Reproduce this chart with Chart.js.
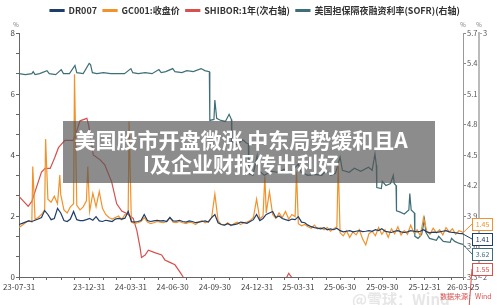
<!DOCTYPE html>
<html>
<head>
<meta charset="utf-8">
<script src="https://cdn.jsdelivr.net/npm/chart.js@4.4.1/dist/chart.umd.min.js"></script>
<style>
  html, body { margin: 0; padding: 0; background: #fff; }
</style>
</head>
<body>
<canvas id="rateChart" width="500" height="305"></canvas>
<script>
// x = days since 2023-07-31, last point 2026-03-25 (day 968)
var weekDays = Array.from({ length: 139 }, function (_, i) { return i * 7; }).concat([968]);

var dr007 = [
  1.72, 1.76, 1.80, 1.84, 1.82, 1.86, 1.90, 1.95, 2.18, 2.05,
  1.88, 1.92, 2.25, 2.10, 1.85, 1.82, 1.90, 2.15, 1.88, 1.85,
  1.85, 1.88, 1.92, 1.86, 1.98, 1.84, 1.82, 1.86, 1.84, 1.82,
  1.90, 1.92, 1.90, 1.93, 2.15, 1.82, 1.80, 1.82, 1.85, 2.05,
  1.85, 1.82, 1.84, 1.86, 1.84, 1.85, 1.82, 1.95, 1.84, 1.83,
  1.86, 1.82, 1.80, 1.84, 1.82, 1.78, 1.80, 1.82, 1.84, 1.80,
  1.95, 2.05, 1.78, 1.72, 1.70, 1.75, 1.70, 1.72, 1.74, 1.80,
  1.78, 1.76, 1.82, 1.88, 2.05, 1.85, 1.92, 2.05, 2.10, 2.15,
  1.95, 2.00, 1.92, 1.88, 1.85, 1.90, 1.88, 1.98, 1.80, 1.78,
  1.70, 1.65, 1.62, 1.60, 1.58, 1.62, 1.55, 1.58, 1.55, 1.60,
  1.52, 1.48, 1.50, 1.52, 1.48, 1.50, 1.52, 1.49, 1.50, 1.52,
  1.50, 1.55, 1.52, 1.58, 1.50, 1.48, 1.46, 1.50, 1.52, 1.48,
  1.46, 1.48, 1.52, 1.50, 1.48, 1.50, 1.55, 1.48, 1.45, 1.47,
  1.46, 1.48, 1.50, 1.52, 1.48, 1.46, 1.45, 1.43, 1.42, 1.41
];

var gc001 = [
  1.62, 1.70, 1.78, 1.85, 1.80, 1.90, 1.95, 2.05, 2.20, 2.55,
  2.45, 2.65, 2.40, 2.70, 2.20, 2.10, 2.30, 2.40, 2.35, 2.20,
  2.30, 2.50, 2.15, 2.75, 2.30, 2.80, 2.25, 2.05, 1.95, 1.90,
  1.95, 2.00, 1.88, 2.05, 2.10, 1.80, 1.75, 1.78, 1.82, 1.95,
  1.80, 1.75, 1.78, 1.82, 1.80, 1.78, 1.82, 1.95, 1.80, 1.78,
  1.82, 1.78, 1.75, 1.80, 1.78, 1.72, 1.80, 1.85, 1.78, 1.82,
  1.95, 2.72, 1.85, 1.72, 1.70, 1.78, 1.68, 1.75, 1.80, 1.72,
  1.78, 1.80, 1.85, 1.95, 2.55, 1.90, 2.00, 2.10, 2.80, 2.05,
  1.92, 2.10, 1.95, 2.15, 1.90, 2.05, 1.98, 1.75, 1.68, 1.72,
  1.65, 1.60, 1.70, 1.58, 1.62, 1.55, 1.62, 1.50, 1.58, 1.65,
  1.45, 1.35, 1.52, 1.30, 1.48, 1.38, 1.55, 1.25, 1.05, 1.42,
  1.50, 1.35, 1.62, 1.40, 1.55, 1.30, 1.58, 1.42, 1.65, 1.38,
  1.52, 1.40, 1.70, 1.45, 1.55, 1.35, 1.95, 1.50, 1.40, 1.60,
  1.45, 1.55, 1.38, 1.62, 1.48, 1.58, 1.40, 1.52, 1.48, 1.45
];

// month-end spikes of GC001
var gcSpikeDays = [30, 58, 89, 121, 150, 240, 536, 605, 696];
var gcSpikeVals = [3.62, 4.52, 3.34, 6.65, 3.62, 5.10, 3.30, 3.45, 3.73];

var shiborDays = [
  0, 10, 20, 28, 35, 42, 49, 57, 68, 78,
  86, 100, 118, 126, 133, 148, 152, 155, 162, 177,
  187, 202, 213, 224, 235, 249, 257, 264, 267, 275,
  282, 296, 311, 318, 329, 340, 351, 358, 370, 390,
  410, 430, 450, 470, 490, 510, 530, 550, 565, 578,
  584, 588, 594, 600, 620, 640, 660, 680, 700, 730,
  760, 790, 820, 850, 880, 910, 940, 968
];
var shiborVals = [
  2.33, 2.31, 2.29, 2.31, 2.35, 2.39, 2.43, 2.445, 2.445, 2.49,
  2.53, 2.56, 2.56, 2.60, 2.64, 2.65, 2.62, 2.58, 2.50, 2.48,
  2.46, 2.39, 2.30, 2.27, 2.26, 2.24, 2.19, 2.12, 2.08, 2.09,
  2.11, 2.10, 2.09, 2.07, 2.06, 2.05, 2.02, 2.00, 1.97, 1.93,
  1.90, 1.88, 1.86, 1.84, 1.78, 1.68, 1.66, 1.74, 1.88, 1.96,
  2.00, 2.015, 2.00, 1.96, 1.90, 1.80, 1.72, 1.68, 1.65, 1.63,
  1.62, 1.64, 1.64, 1.63, 1.62, 1.60, 1.57, 1.55
];

var sofrDays = [
  0, 14, 28, 31, 35, 45, 61, 66, 80, 92,
  97, 110, 122, 126, 140, 153, 156, 160, 170, 184,
  200, 213, 230, 244, 248, 260, 275, 290, 305, 310,
  320, 335, 340, 355, 366, 380, 397, 405, 415, 416,
  425, 427, 431, 440, 450, 458, 463, 464, 475, 488,
  495, 500, 501, 510, 519, 522, 535, 550, 565, 578,
  590, 609, 615, 630, 645, 660, 670, 680, 690, 700,
  705, 720, 731, 745, 762, 770, 776, 779, 780, 790,
  792, 800, 810, 816, 818, 822, 823, 830, 840, 850,
  852, 855, 862, 863, 870, 878, 884, 887, 895, 910,
  915, 925, 940, 943, 950, 960, 968
];
var sofrVals = [
  5.30, 5.29, 5.30, 5.32, 5.29, 5.30, 5.33, 5.30, 5.29, 5.34,
  5.30, 5.30, 5.38, 5.31, 5.30, 5.40, 5.39, 5.31, 5.30, 5.31,
  5.30, 5.30, 5.30, 5.35, 5.31, 5.30, 5.31, 5.30, 5.34, 5.31,
  5.32, 5.35, 5.32, 5.31, 5.33, 5.32, 5.35, 5.33, 5.32, 4.84,
  4.85, 5.04, 4.86, 4.84, 4.83, 4.90, 4.85, 4.63, 4.60, 4.65,
  4.62, 4.61, 4.32, 4.30, 4.49, 4.35, 4.30, 4.34, 4.33, 4.36,
  4.32, 4.41, 4.33, 4.30, 4.31, 4.30, 4.35, 4.30, 4.32, 4.48,
  4.35, 4.33, 4.37, 4.34, 4.38, 4.35, 4.51, 4.40, 4.18, 4.17,
  4.24, 4.20, 4.22, 4.30, 4.22, 4.20, 3.95, 3.94, 3.92, 3.96,
  4.12, 3.96, 3.93, 3.70, 3.68, 3.72, 3.87, 3.74, 3.68, 3.66,
  3.70, 3.65, 3.64, 3.68, 3.65, 3.63, 3.62
];

// axis ticks
var xTickDays = [0, 31, 61, 92, 122, 153, 184, 213, 244, 274, 305, 335, 366, 397, 427, 458,
  488, 519, 550, 578, 609, 639, 670, 700, 731, 762, 792, 823, 853, 884, 915, 943, 968];
var xTickLabels = {
  0: '23-07-31', 153: '23-12-31', 244: '24-03-31', 335: '24-06-30', 427: '24-09-30',
  519: '24-12-31', 609: '25-03-31', 700: '25-06-30', 792: '25-09-30', 884: '25-12-31', 968: '26-03-25'
};
var sofrTicks = [3.3, 3.6, 3.9, 4.2, 4.5, 4.8, 5.1, 5.4, 5.7];
var shiborTicks = [2, 3];

var seriesNames = ['DR007', 'GC001:收盘价', 'SHIBOR:1年(次右轴)', '美国担保隔夜融资利率(SOFR)(右轴)'];
var seriesColors = ['#1f3d6b', '#f2922a', '#d6504e', '#3e6f78'];
var titleLines = ['美国股市开盘微涨 中东局势缓和且A', 'I及企业财报传出利好'];

function toPoints(xs, ys) {
  return xs.map(function (x, i) { return { x: x, y: ys[i] }; });
}

var gcPoints = toPoints(weekDays, gc001).concat(toPoints(gcSpikeDays, gcSpikeVals));
gcPoints.sort(function (a, b) { return a.x - b.x; });

var FONT = '"Noto Sans CJK SC", "Noto Sans", sans-serif';
Chart.defaults.font.family = FONT;

// extra room under the legend, legend nudged a bit to the right
var legendSpacer = {
  id: 'legendSpacer',
  afterInit: function (chart) {
    var lg = chart.legend;
    var fit = lg.fit;
    lg.fit = function () {
      fit.call(this);
      this.height += 8;
    };
    var draw = lg.draw;
    lg.draw = function () {
      var c = this.ctx;
      c.save();
      c.translate(5, 0);
      draw.call(this);
      c.restore();
    };
  }
};

// end value boxes on the right
var callouts = {
  id: 'callouts',
  afterDatasetsDraw: function (chart) {
    var ctx = chart.ctx;
    var xs = chart.scales.x;
    var items = chart.data.datasets.map(function (ds, i) {
      var last = ds.data[ds.data.length - 1];
      var px = xs.getPixelForValue(last.x);
      var py = chart.scales[ds.yAxisID].getPixelForValue(last.y);
      return { px: px, py: py, y: Math.min(py, 270), color: seriesColors[i], text: last.y.toFixed(2) };
    });
    items.sort(function (a, b) { return a.y - b.y; });
    for (var i = 1; i < items.length; i++) {
      items[i].y = Math.max(items[i].y, items[i - 1].y + 15);
    }
    var shift = Math.min(0, 269 - items[items.length - 1].y);
    items.forEach(function (it) { it.y += shift; });

    ctx.save();
    items.forEach(function (it) {
      var bx = chart.chartArea.right + 9, bw = 20, bh = 12;
      ctx.strokeStyle = it.color;
      ctx.lineWidth = 1;
      ctx.beginPath();
      ctx.moveTo(it.px, it.py);
      ctx.lineTo(bx, it.y);
      ctx.stroke();
      ctx.fillStyle = '#fff';
      ctx.fillRect(bx, it.y - bh / 2, bw, bh);
      ctx.strokeRect(bx + 0.5, it.y - bh / 2 + 0.5, bw, bh);
      ctx.fillStyle = it.color;
      ctx.font = '7px ' + FONT;
      ctx.textAlign = 'center';
      ctx.textBaseline = 'middle';
      ctx.fillText(it.text, bx + bw / 2 + 0.5, it.y + 0.5);
    });
    ctx.restore();
  }
};

// units, headline band and source note
var overlay = {
  id: 'overlay',
  afterDraw: function (chart) {
    var ctx = chart.ctx;
    var a = chart.chartArea;
    ctx.save();
    ctx.fillStyle = '#777';
    ctx.font = '6px ' + FONT;
    ctx.textAlign = 'center';
    ctx.fillText('%', a.left - 3, a.top - 8);
    ctx.fillText('%', chart.scales.y1.left, a.top - 8);
    ctx.fillText('%', chart.scales.y2.left, a.top - 8);

    ctx.fillStyle = 'rgba(200, 200, 200, 0.45)';
    ctx.font = 'bold 15px ' + FONT;
    ctx.textAlign = 'left';
    ctx.fillText('@雪球：Wind', 352, 299);

    ctx.fillStyle = '#d9534f';
    ctx.font = '7px ' + FONT;
    ctx.fillText('数据来源：Wind', 440, 296);

    ctx.fillStyle = 'rgba(85, 85, 85, 0.68)';
    ctx.fillRect(63, 121, 372, 62);
    ctx.fillStyle = '#fff';
    ctx.font = 'bold 21px ' + FONT;
    ctx.textAlign = 'center';
    ctx.textBaseline = 'middle';
    ctx.fillText(titleLines[0], 241, 140);
    ctx.fillText(titleLines[1], 241, 164);
    ctx.restore();
  }
};

function lineSet(i, data, axis) {
  return {
    label: seriesNames[i],
    data: data,
    yAxisID: axis,
    borderColor: seriesColors[i],
    backgroundColor: seriesColors[i],
    borderWidth: 1.2,
    pointRadius: 0,
    tension: 0
  };
}

var ctx = document.getElementById('rateChart').getContext('2d');
new Chart(ctx, {
  type: 'line',
  data: {
    datasets: [
      lineSet(0, toPoints(weekDays, dr007), 'y'),
      lineSet(1, gcPoints, 'y'),
      lineSet(2, toPoints(shiborDays, shiborVals), 'y2'),
      lineSet(3, toPoints(sofrDays, sofrVals), 'y1')
    ]
  },
  options: {
    responsive: false,
    animation: false,
    devicePixelRatio: 1,
    layout: { padding: { top: 0, left: 0, right: 0, bottom: 0 } },
    plugins: {
      legend: {
        position: 'top',
        labels: {
          boxWidth: 14,
          boxHeight: 2,
          padding: 6,
          color: '#333',
          font: { size: 9, weight: 'bold' }
        }
      },
      tooltip: { enabled: false }
    },
    scales: {
      x: {
        type: 'linear',
        min: 0,
        max: 968,
        afterBuildTicks: function (s) {
          s.ticks = xTickDays.map(function (v) { return { value: v }; });
        },
        afterFit: function (s) { s.height = 28; },
        ticks: {
          autoSkip: false,
          maxRotation: 0,
          padding: 2,
          color: '#444',
          font: { size: 8 },
          callback: function (v) { return xTickLabels[v] || ''; }
        },
        grid: { drawOnChartArea: false, tickLength: 3, tickColor: '#666' },
        border: { color: '#666' }
      },
      y: {
        position: 'left',
        min: 0,
        max: 8,
        afterBuildTicks: function (s) {
          s.ticks = Array.from({ length: 25 }, function (_, i) { return { value: i / 3 }; });
        },
        afterFit: function (s) { s.width = 19; },
        ticks: {
          padding: 1,
          color: '#444',
          font: { size: 8 },
          callback: function (v) {
            return Math.abs(v - Math.round(v)) < 1e-6 ? String(Math.round(v)) : '';
          }
        },
        grid: { drawOnChartArea: false, tickLength: 3, tickColor: '#666' },
        border: { color: '#666' }
      },
      y1: {
        position: 'right',
        weight: 0,
        min: 3.3,
        max: 5.7,
        afterBuildTicks: function (s) {
          s.ticks = sofrTicks.map(function (v) { return { value: v }; });
        },
        afterFit: function (s) { s.width = 16; },
        ticks: {
          padding: 1,
          color: '#555',
          font: { size: 7.5 },
          callback: function (v) { return v.toFixed(1); }
        },
        grid: { drawOnChartArea: false, tickLength: 3, tickColor: '#888' },
        border: { color: '#999' }
      },
      y2: {
        position: 'right',
        weight: 1,
        min: 2,
        max: 3,
        afterBuildTicks: function (s) {
          s.ticks = shiborTicks.map(function (v) { return { value: v }; });
        },
        afterFit: function (s) { s.width = 21; },
        ticks: {
          padding: 1,
          color: '#555',
          font: { size: 7.5 },
          callback: function (v) { return String(v); }
        },
        grid: { drawOnChartArea: false, tickLength: 3, tickColor: '#aaa' },
        border: { color: '#bbb', width: 2 }
      }
    }
  },
  plugins: [legendSpacer, callouts, overlay]
});
</script>
</body>
</html>
